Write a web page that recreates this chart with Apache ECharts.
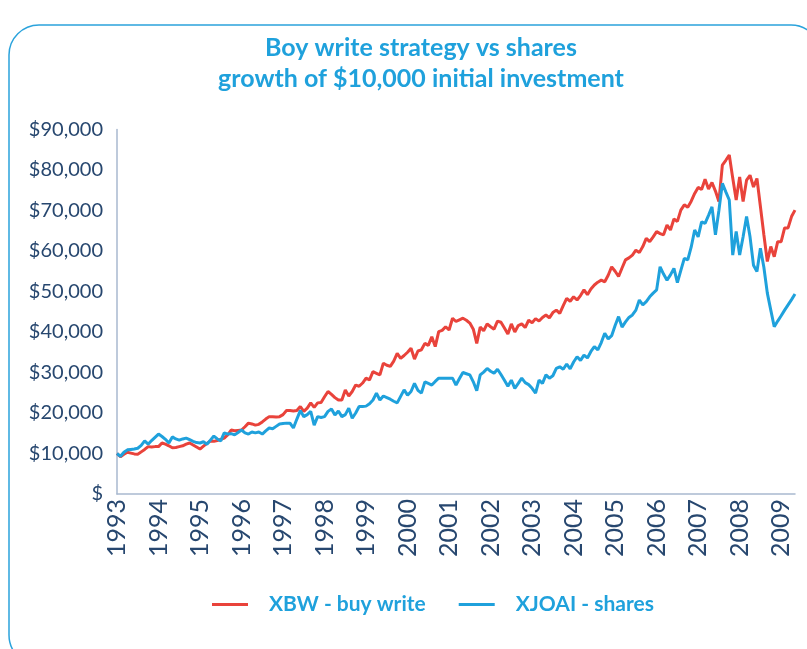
<!DOCTYPE html>
<html>
<head>
<meta charset="utf-8">
<script src="https://cdn.jsdelivr.net/npm/echarts@6/dist/echarts.min.js"></script>
<style>
  html, body { margin: 0; padding: 0; background: #fff; }
  #chart { width: 807px; height: 649px; }
</style>
</head>
<body>
<div id="chart"></div>
<script>
var chart = echarts.init(document.getElementById('chart'));

// year tick labels, data is monthly from Jan 1993
var years = ['1993','1994','1995','1996','1997','1998','1999','2000','2001',
             '2002','2003','2004','2005','2006','2007','2008','2009'];

// XBW - buy write (monthly, $)
var xbw = [
  10000, 9200, 9800, 10300, 10100, 9900, 9800, 10400, 11000, 11700, 11600, 11700,
  11700, 12600, 12300, 11900, 11400, 11500, 11700, 11900, 12300, 12600, 12100, 11600,
  11100, 11800, 12500, 13100, 13000, 13200, 13500, 13800, 14600, 15800, 15600, 15700,
  15800, 16600, 17500, 17300, 17000, 17200, 17800, 18500, 19100, 19100, 19000, 19100,
  19600, 20600, 20600, 20500, 20600, 21600, 20400, 21200, 22500, 21400, 22500, 22600,
  24000, 25300, 24600, 23800, 23200, 23200, 25700, 24200, 25300, 26900, 26600, 27400,
  28600, 28200, 30200, 29800, 29400, 32300, 31800, 31500, 32800, 34700, 33500, 34200,
  35000, 36000, 33300, 35300, 35600, 37200, 36700, 38800, 36400, 40100, 40400, 41300,
  40500, 43400, 42600, 43000, 43400, 42900, 42200, 40700, 37200, 41200, 40300, 42000,
  41300, 40700, 42700, 42400, 41000, 39500, 42000, 40000, 41600, 42000, 41100, 42900,
  42300, 43300, 42700, 43600, 44200, 43500, 44800, 45400, 44600, 46500, 48300, 47600,
  48700, 47900, 49000, 50400, 49200, 50600, 51600, 52300, 52800, 52400, 54000, 56100,
  55000, 53700, 55800, 57800, 58300, 59000, 60200, 59600, 61100, 63100, 62300, 63500,
  64800, 64300, 64000, 66400, 65200, 67900, 67300, 70100, 71400, 70800, 72300, 74200,
  75700, 75200, 77700, 75300, 76900, 74800, 72200, 81200, 82400, 83700, 78000, 72600,
  78300, 72200, 77500, 78700, 75800, 77900, 71000, 64000, 57400, 61100, 58600, 62300,
  62300, 65700, 65700, 68500, 70100
];

// XJOAI - shares (monthly, $)
var xjoai = [
  10000, 9300, 10300, 10900, 11000, 11100, 11300, 12000, 13100, 12300, 13200, 14000,
  14800, 14200, 13500, 12600, 14100, 13600, 13300, 13600, 13800, 13400, 13000, 12700,
  12600, 12900, 12300, 13300, 14300, 13600, 13100, 15100, 14800, 14900, 14600, 15200,
  15800, 15100, 14800, 15300, 15100, 15300, 14800, 15600, 16300, 16100, 16700, 17300,
  17400, 17500, 17500, 16300, 18500, 20600, 19100, 19600, 20400, 17000, 19100, 18900,
  19100, 20400, 21000, 19500, 20500, 19100, 19600, 21200, 18700, 20000, 21600, 21600,
  21700, 22300, 23200, 24900, 23200, 24200, 23800, 23400, 22900, 22500, 24100, 25700,
  24400, 25300, 27300, 25600, 24900, 27700, 27300, 26900, 27800, 28600, 28600, 28600,
  28600, 28600, 26900, 28500, 30000, 29700, 29400, 27700, 25500, 29400, 30100, 31000,
  30300, 29800, 30800, 29500, 28100, 26600, 28100, 26100, 27300, 28600, 27500, 27000,
  26100, 24900, 28100, 27300, 29400, 28600, 29200, 31000, 31400, 30800, 32100, 30900,
  32600, 33900, 33000, 34300, 33600, 35200, 36400, 35600, 37400, 39700, 38300, 39100,
  41600, 43800, 41200, 42500, 43600, 44200, 45400, 47900, 46700, 47500, 48700, 49600,
  50400, 56100, 54300, 52800, 54100, 55700, 52200, 55200, 58200, 57800, 61000, 65200,
  63500, 67200, 66800, 68800, 70900, 64000, 70000, 76700, 74600, 72600, 59000, 64800,
  59000, 63500, 68500, 63500, 56500, 54900, 60700, 56000, 49600, 45400, 41300, 42700,
  44000, 45400, 46700, 48000, 49400
];

var red = '#e9433b';
var blue = '#1fa1dc';
var navy = '#27476f';
var font = 'Lato';

// monthly categories
var months = [];
for (var i = 0; i < xbw.length; i++) {
    var y = years[0] * 1 + Math.floor(i / 12);
    var m = (i % 12) + 1;
    months.push(y + '-' + (m < 10 ? '0' + m : m));
}

chart.setOption({
    animation: false,
    backgroundColor: '#fff',
    grid: { left: 117, right: 12, top: 129.5, bottom: 155 },
    graphic: [
        {
            type: 'rect', silent: true,
            shape: { x: 9, y: 25, width: 812, height: 640, r: 30 },
            style: { fill: 'none', stroke: '#2ba3dc', lineWidth: 1.5 }
        },
        {
            type: 'text', x: 421, y: 48,
            style: { text: 'Boy write strategy vs shares', fill: blue, fontFamily: font,
                     fontWeight: 'bold', fontSize: 25, align: 'center', verticalAlign: 'middle' }
        },
        {
            type: 'text', x: 421, y: 79,
            style: { text: 'growth of $10,000 initial investment', fill: blue, fontFamily: font,
                     fontWeight: 'bold', fontSize: 25, align: 'center', verticalAlign: 'middle' }
        }
    ],
    legend: {
        left: 212, top: 594, padding: 0,
        icon: 'rect', itemWidth: 36, itemHeight: 3, itemGap: 33,
        textStyle: { color: blue, fontFamily: font, fontWeight: 'bold', fontSize: 21, padding: [0, 0, 0, 16] },
        data: ['XBW - buy write', 'XJOAI - shares']
    },
    xAxis: {
        type: 'category',
        data: months,
        boundaryGap: false,
        axisLine: { lineStyle: { color: '#a9b9cf', width: 1.5 } },
        axisTick: { show: false },
        splitLine: { show: false },
        axisLabel: {
            rotate: 90, margin: 5,
            color: navy, fontFamily: font, fontSize: 25,
            interval: function (index) { return index % 12 === 0; },
            formatter: function (v) { return v.slice(0, 4); }
        }
    },
    yAxis: {
        type: 'value',
        min: 0, max: 90000, interval: 10000,
        axisLine: { show: true, lineStyle: { color: '#a9b9cf', width: 1.5 } },
        axisTick: { show: false },
        splitLine: { show: false },
        axisLabel: {
            margin: 14, color: navy, fontFamily: font, fontSize: 20,
            formatter: function (v) { return v === 0 ? '$' : '$' + v.toLocaleString('en-US'); }
        }
    },
    series: [
        {
            name: 'XBW - buy write', type: 'line', data: xbw,
            symbol: 'none', itemStyle: { color: red },
            lineStyle: { color: red, width: 3 }
        },
        {
            name: 'XJOAI - shares', type: 'line', data: xjoai,
            symbol: 'none', itemStyle: { color: blue },
            lineStyle: { color: blue, width: 3 }
        }
    ]
});

window.addEventListener('resize', function () {
    chart.resize();
});
</script>
</body>
</html>
